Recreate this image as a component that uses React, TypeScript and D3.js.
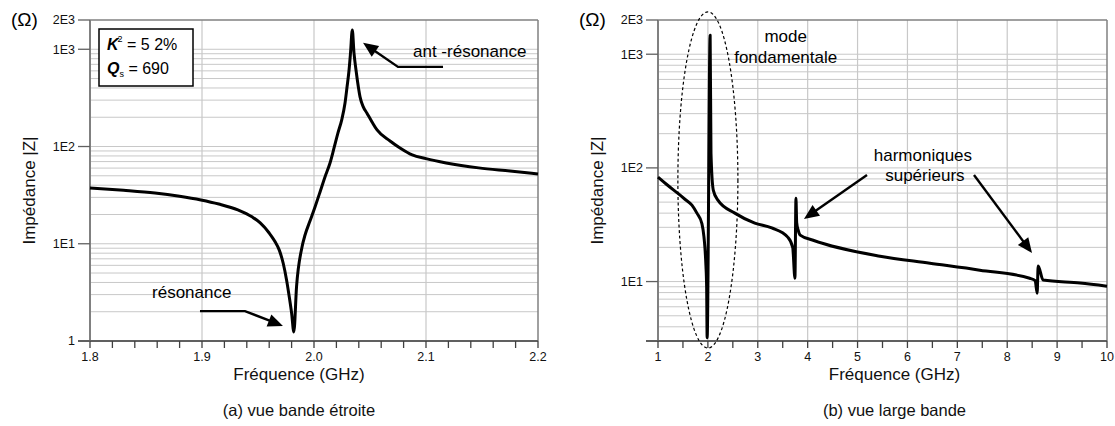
import React from 'react';
import * as d3 from 'd3';

// ---------- data ----------
const narrowFreq = [1.800, 1.830, 1.858, 1.880, 1.899, 1.915, 1.932, 1.945, 1.952, 1.960, 1.965, 1.969, 1.9725, 1.9755, 1.978, 1.980, 1.982, 1.9844, 1.9893, 1.9920, 1.9964, 2.0009, 2.0054, 2.0098, 2.0143, 2.0179, 2.0214, 2.0247, 2.0277, 2.0295, 2.0313, 2.0326, 2.0342, 2.0357, 2.0375, 2.0396, 2.0411, 2.0440, 2.0473, 2.0518, 2.0563, 2.0679, 2.0768, 2.0877, 2.100, 2.118, 2.147, 2.175, 2.200];
const narrowZ = [37.5, 35.5, 33.3, 30.8, 28.2, 25.6, 22.3, 18.8, 16.4, 12.9, 10.6, 8.6, 6.3, 4.24, 2.8, 1.94, 1.24, 3.6, 9.26, 12.3, 17.1, 23.9, 34.1, 48.6, 67.7, 96.6, 138, 187, 280, 409, 612, 916, 1578, 916, 612, 409, 324, 256, 220, 179, 148, 114, 96.6, 82, 75, 67.8, 60.3, 56, 52.3];

const wideFreq = [1.0, 1.2, 1.4, 1.54, 1.68, 1.78, 1.88, 1.92, 1.94, 1.96, 1.975, 1.985, 2.045, 2.062, 2.108, 2.2, 2.54, 2.94, 3.28, 3.6, 3.7, 3.745, 3.765, 3.78, 3.81, 3.85, 4.11, 5.45, 6.45, 7.45, 8.45, 8.56, 8.6, 8.62, 8.72, 9.46, 10.0];
const wideZ = [83, 70, 59.6, 53, 47, 40, 32.4, 25, 20, 14, 8.9, 3.2, 1470, 135, 63.8, 52, 40, 32.7, 29.6, 24.6, 20, 10.7, 54, 33, 28.3, 25.6, 23.1, 16.7, 14.5, 12.6, 10.7, 10.2, 7.9, 13.7, 10.3, 9.7, 9.1];

const narrowXTicks = [1.8, 1.9, 2.0, 2.1, 2.2];
const narrowXTickLabels = ['1.8', '1.9', '2.0', '2.1', '2.2'];
const wideXTicks = [1, 2, 3, 4, 5, 6, 7, 8, 9, 10];
const wideXTickLabels = ['1', '2', '3', '4', '5', '6', '7', '8', '9', '10'];
const narrowYTicks = [1, 10, 100, 1000, 2000];
const narrowYTickLabels = ['1', '1E1', '1E2', '1E3', '2E3'];
const wideYTicks = [10, 100, 1000, 2000];
const wideYTickLabels = ['1E1', '1E2', '1E3', '2E3'];

const FONT = '"Liberation Sans", Arial, Helvetica, sans-serif';
const AXIS = '#808080';
const GRID = '#c8c8c8';

type Pt = [number, number];

function Arrow({ pts }: { pts: Pt[] }) {
  const n = pts.length;
  const [tx, ty] = pts[n - 1];
  const [px, py] = pts[n - 2];
  const dx = tx - px, dy = ty - py;
  const len = Math.hypot(dx, dy);
  const ux = dx / len, uy = dy / len;
  const hl = 15, hw = 6.5;
  const bx = tx - ux * hl, by = ty - uy * hl;
  const head = [
    [tx, ty],
    [bx - uy * hw, by + ux * hw],
    [bx + uy * hw, by - ux * hw],
  ];
  const linePts = pts.slice(0, n - 1).concat([[bx + ux * 2, by + uy * 2]]);
  return (
    <g>
      <polyline points={linePts.map((p) => p.join(',')).join(' ')} fill="none" stroke="#000" strokeWidth={2.4} />
      <polygon points={head.map((p) => p.join(',')).join(' ')} fill="#000" />
    </g>
  );
}

interface PanelProps {
  left: number;
  right: number;
  top: number;
  bottom: number;
  xDomain: [number, number];
  yDomain: [number, number];
  xTicks: number[];
  xTickLabels: string[];
  xMinorStep: number;
  yTicks: number[];
  yTickLabels: string[];
  freq: number[];
  z: number[];
  subtitle: string;
  titleShift: number;
  children?: (x: d3.ScaleLinear<number, number>, y: d3.ScaleLogarithmic<number, number>) => React.ReactNode;
}

function Panel(p: PanelProps) {
  const x = d3.scaleLinear().domain(p.xDomain).range([p.left, p.right]);
  const y = d3.scaleLog().domain(p.yDomain).range([p.bottom, p.top]);

  const minor: number[] = [];
  for (let dec = 1; dec <= 1000; dec *= 10) {
    for (let k = 1; k <= 9; k++) {
      const v = k * dec;
      if (v > p.yDomain[0] && v < p.yDomain[1]) minor.push(v);
    }
  }
  const xMinor = d3.range(p.xDomain[0], p.xDomain[1] + 1e-9, p.xMinorStep);

  const line = d3
    .line<number>()
    .x((_, i) => x(p.freq[i]))
    .y((d) => y(d))
    .curve(d3.curveMonotoneX);

  const cx = (p.left + p.right) / 2;

  return (
    <g fontFamily={FONT}>
      {minor.map((v, i) => (
        <line key={'h' + i} x1={p.left} x2={p.right} y1={y(v)} y2={y(v)} stroke={GRID} strokeWidth={1} />
      ))}
      {p.xTicks.slice(1, -1).map((v, i) => (
        <line key={'v' + i} x1={x(v)} x2={x(v)} y1={p.top} y2={p.bottom} stroke={GRID} strokeWidth={1.2} />
      ))}
      <line x1={p.left} x2={p.right} y1={p.top} y2={p.top} stroke={AXIS} strokeWidth={1.5} />
      <line x1={p.right} x2={p.right} y1={p.top} y2={p.bottom} stroke={AXIS} strokeWidth={1.5} />
      <line x1={p.left} x2={p.left} y1={p.top} y2={p.bottom} stroke={AXIS} strokeWidth={2} />
      <line x1={p.left - 12} x2={p.right} y1={p.bottom} y2={p.bottom} stroke="#606060" strokeWidth={2} />
      {xMinor.map((v, i) => (
        <line key={'xt' + i} x1={x(v)} x2={x(v)} y1={p.bottom} y2={p.bottom + 7} stroke="#404040" strokeWidth={1.3} />
      ))}
      {p.xTicks.map((v, i) => (
        <text key={'xl' + i} x={x(v)} y={p.bottom + 20} fontSize={12.5} textAnchor="middle" fill="#111">
          {p.xTickLabels[i]}
        </text>
      ))}
      {p.yTicks.map((v, i) => (
        <g key={'yt' + i}>
          <line x1={p.left - 12} x2={p.left} y1={y(v)} y2={y(v)} stroke="#606060" strokeWidth={1.3} />
          <text x={p.left - 15} y={y(v)} dy="0.35em" fontSize={12.5} textAnchor="end" fill="#111">
            {p.yTickLabels[i]}
          </text>
        </g>
      ))}
      <text x={p.left - 79} y={p.top + 6} fontSize={19} fill="#000">(Ω)</text>
      <text x={cx + p.titleShift} y={p.bottom + 39} fontSize={17} textAnchor="middle" fill="#111">Fréquence (GHz)</text>
      <text transform={`translate(${p.left - 55},${(p.top + p.bottom) / 2 + 10}) rotate(-90)`} fontSize={17} textAnchor="middle" fill="#111">
        Impédance |Z|
      </text>
      <text x={cx + p.titleShift} y={p.bottom + 75} fontSize={16.5} textAnchor="middle" fill="#111">{p.subtitle}</text>
      <path d={line(p.z) || ''} fill="none" stroke="#000" strokeWidth={3} strokeLinejoin="round" />
      {p.children && p.children(x, y)}
    </g>
  );
}

export default function App() {
  return (
    <svg width={1115} height={426} style={{ position: 'absolute', left: 0, top: 0, background: '#fff' }}>
      <rect x={0} y={0} width={1115} height={426} fill="#fff" />
      <Panel
        left={90}
        right={538}
        top={20}
        bottom={341}
        xDomain={[1.8, 2.2]}
        yDomain={[1, 2000]}
        xTicks={narrowXTicks}
        xTickLabels={narrowXTickLabels}
        xMinorStep={0.02}
        yTicks={narrowYTicks}
        yTickLabels={narrowYTickLabels}
        freq={narrowFreq}
        z={narrowZ}
        subtitle="(a) vue bande étroite"
        titleShift={-15}
      >
        {(x, y) => (
          <g>
            <rect x={99} y={29} width={94} height={57} fill="#fff" stroke="#000" strokeWidth={1.5} />
            <text x={107} y={50} fontSize={16} fontFamily={FONT}>
              <tspan fontWeight="bold" fontStyle="italic">K</tspan>
              <tspan fontSize={9} dy={-8} dx={-1}>2</tspan>
              <tspan dy={8}> = 5 2%</tspan>
            </text>
            <text x={107} y={74} fontSize={16} fontFamily={FONT}>
              <tspan fontWeight="bold" fontStyle="italic">Q</tspan>
              <tspan fontSize={9} dy={3}>s</tspan>
              <tspan dy={-3}> = 690</tspan>
            </text>
            <text x={x(2.0884)} y={y(835)} fontSize={17} fontFamily={FONT}>ant -résonance</text>
            <Arrow pts={[[x(2.1152), y(659)], [x(2.075), y(659)], [x(2.0438), y(1164)]]} />
            <text x={x(1.8554)} y={y(2.77)} fontSize={17} fontFamily={FONT}>résonance</text>
            <Arrow pts={[[x(1.8982), y(2.03)], [x(1.9384), y(2.03)], [x(1.9723), y(1.43)]]} />
          </g>
        )}
      </Panel>
      <Panel
        left={658}
        right={1107}
        top={20}
        bottom={341}
        xDomain={[1, 10]}
        yDomain={[3, 2000]}
        xTicks={wideXTicks}
        xTickLabels={wideXTickLabels}
        xMinorStep={0.5}
        yTicks={wideYTicks}
        yTickLabels={wideYTickLabels}
        freq={wideFreq}
        z={wideZ}
        subtitle="(b) vue large bande"
        titleShift={12}
      >
        {(x, y) => (
          <g>
            <ellipse
              cx={x(2.0)}
              cy={y(78.3)}
              rx={(x(2.604) - x(1.401)) / 2}
              ry={(y(2.6) - y(2356)) / 2}
              fill="none"
              stroke="#000"
              strokeWidth={1.2}
              strokeDasharray="3,2.5"
            />
            <text x={x(3.56)} y={y(1278)} fontSize={17} textAnchor="middle" fontFamily={FONT}>mode</text>
            <text x={x(3.56)} y={y(836)} fontSize={17} textAnchor="middle" fontFamily={FONT}>fondamentale</text>
            <text x={x(6.31)} y={y(115)} fontSize={17} textAnchor="middle" fontFamily={FONT}>harmoniques</text>
            <text x={x(6.35)} y={y(76.6)} fontSize={17} textAnchor="middle" fontFamily={FONT}>supérieurs</text>
            <Arrow pts={[[x(5.189), y(86.5)], [x(3.926), y(35.5)]]} />
            <Arrow pts={[[x(7.334), y(86.5)], [x(8.497), y(17.8)]]} />
          </g>
        )}
      </Panel>
    </svg>
  );
}
